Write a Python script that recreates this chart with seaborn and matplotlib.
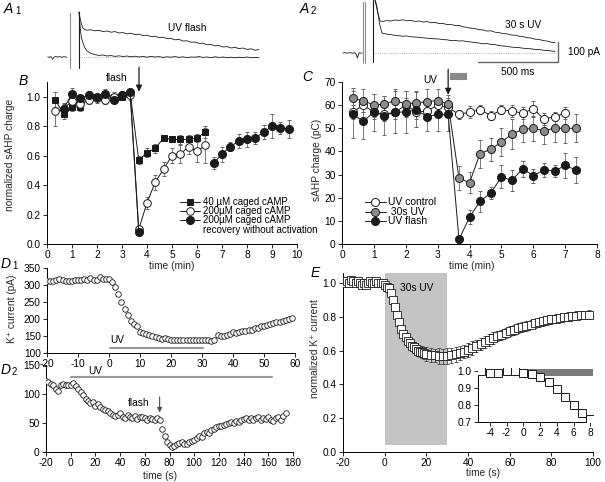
"""
Caged cAMP / sAHP figure: example traces (A), sAHP time courses (B, C),
K+ current time courses (D1, D2) and normalized K+ current (E).
"""
import matplotlib
matplotlib.use("Agg")
import matplotlib.pyplot as plt
from matplotlib.patches import Rectangle
import seaborn as sns

# --- Data ---------------------------------------------------------------
# A1 traces (ms, pA), zero = flash
A1_pre_t = [-195, -185, -175, -165, -155, -145, -135, -125, -115, -105, -95, -85, -75]
A1_pre = [1, -2, 2, -11, 0, 3, -1, 2, 1, -2, 2, 0, -1]
A1_t_up = [0, 8, 16, 25, 35, 50, 75, 100, 125, 150, 175, 200, 225, 250, 275, 300, 325, 350, 375,
           400, 425, 450, 475, 500, 525, 550, 575, 600, 625, 650, 675, 700, 725, 750, 775, 800,
           825, 850, 875, 900, 925, 950, 975, 1000, 1025, 1050, 1075, 1100, 1125]
A1_up = [225, 190, 162, 145, 138, 134, 136, 131, 133, 127, 130, 124, 127, 120, 122, 116, 119, 112, 114,
         107, 109, 102, 104, 97, 99, 92, 93, 86, 88, 80, 81, 74, 75, 68, 69, 61,
         63, 56, 57, 50, 52, 45, 48, 42, 45, 38, 41, 34, 37]
A1_t_lo = [0, 5, 10, 16, 25, 35, 50, 75, 100, 125, 150, 175, 200, 225, 250, 275, 300, 325, 350, 375,
           400, 425, 450, 475, 500, 525, 550, 575, 600, 625, 650, 675, 700, 725, 750, 775, 800,
           825, 850, 875, 900, 925, 950, 975, 1000, 1025, 1050, 1075, 1100, 1125]
A1_lo = [225, 170, 125, 95, 70, 48, 30, 18, 12, 8, 10, 5, 7, 3, 6, 2, 5, 1, 4, 0,
         3, -1, 3, 0, 2, -2, 1, -1, 2, -2, 1, -3, 0, -1, 2, -2, 0,
         -3, 1, -2, 0, -3, -1, -4, -1, -3, 0, -4, -2, -4]

# A2 traces (ms, pA)
A2_pre_t = [-200, -190, -180, -170, -160, -150, -140, -130, -120, -110, -100, -90, -80]
A2_pre = [0, 2, -1, 1, 0, 2, -1, 1, -3, -25, 1, -1, 0]
A2_t_up = [0, 15, 31, 50, 75, 100, 125, 150, 175, 200, 225, 250, 275, 300, 325, 350, 375, 400,
           425, 450, 475, 500, 525, 550, 575, 600, 625, 650, 675, 700, 725, 750, 775, 800, 825,
           850, 875, 900, 925, 950, 975, 1000, 1025, 1050, 1075, 1100, 1125]
A2_up = [265, 210, 160, 158, 162, 160, 165, 163, 166, 161, 163, 158, 160, 155, 157, 151, 153, 147,
         148, 142, 143, 137, 138, 131, 128, 124, 122, 117, 115, 110, 111, 104, 102, 97, 96,
         90, 89, 84, 82, 77, 75, 69, 68, 62, 60, 54, 52]
A2_t_lo = [0, 10, 20, 30, 44, 60, 75, 100, 125, 150, 175, 200, 225, 250, 275, 300, 325, 350, 375,
           400, 425, 450, 475, 500, 525, 550, 575, 600, 625, 650, 675, 700, 725, 750, 775, 800,
           825, 850, 875, 900, 925, 950, 975, 1000, 1025, 1050, 1075, 1100, 1125]
A2_lo = [265, 240, 190, 140, 100, 97, 94, 92, 88, 86, 84, 85, 81, 80, 78, 76, 74, 72, 71,
         70, 67, 66, 62, 63, 60, 61, 57, 55, 52, 50, 46, 47, 43, 42, 37, 35,
         33, 30, 28, 27, 24, 22, 21, 18, 17, 14, 13, 10, 8]

# B: normalized sAHP charge (time in min)
B_t = [0.33, 0.67, 1.0, 1.33, 1.67, 2.0, 2.33, 2.67, 3.0, 3.33, 3.67, 4.0, 4.33, 4.67, 5.0, 5.33,
       5.67, 6.0, 6.33]
B_40 = [0.98, 0.88, 0.93, 0.93, 0.99, 1.00, 1.02, 1.00, 1.00, 1.02, 0.57, 0.62, 0.65, 0.72, 0.71,
        0.71, 0.71, 0.72, 0.76]
B_40_err = [0.05, 0.03, 0.03, 0.03, 0.03, 0.02, 0.02, 0.02, 0.02, 0.02, 0.03, 0.03, 0.03, 0.02,
            0.02, 0.03, 0.03, 0.03, 0.04]
B_200 = [0.90, 0.92, 0.97, 0.95, 0.98, 0.99, 0.98, 1.00, 1.01, 1.01, 0.10, 0.28, 0.42, 0.51, 0.60,
         0.61, 0.66, 0.63, 0.67]
B_200_err = [0.10, 0.04, 0.04, 0.03, 0.03, 0.03, 0.03, 0.03, 0.03, 0.03, 0.02, 0.04, 0.05, 0.05,
             0.05, 0.06, 0.05, 0.07, 0.12]
B_rec_t1 = [0.67, 1.0, 1.33, 1.67, 2.0, 2.33, 2.67, 3.0, 3.33, 3.67]
B_rec1 = [0.92, 1.02, 0.99, 1.01, 1.00, 1.02, 0.98, 1.01, 1.03, 0.08]
B_rec1_err = [0.03, 0.04, 0.02, 0.03, 0.02, 0.03, 0.02, 0.02, 0.02, 0.02]
B_rec_t2 = [6.67, 7.0, 7.33, 7.67, 8.0, 8.33, 8.67, 9.0, 9.33, 9.67]
B_rec2 = [0.55, 0.61, 0.66, 0.70, 0.71, 0.72, 0.76, 0.80, 0.79, 0.78]
B_rec2_err = [0.04, 0.05, 0.03, 0.05, 0.05, 0.04, 0.05, 0.08, 0.04, 0.06]

# C: sAHP charge (pC)
C_t = [0.33, 0.67, 1.0, 1.33, 1.67, 2.0, 2.33, 2.67, 3.0, 3.33, 3.67, 4.0, 4.33, 4.67, 5.0, 5.33,
       5.67, 6.0, 6.33, 6.67, 7.0, 7.33]
C_ctrl = [57, 60, 57, 56, 57, 60, 57, 57.5, 60, 59, 56, 57, 58, 55.5, 58, 57.5, 56.5, 58.5, 54, 55, 56.5]
C_ctrl_err = [3, 3, 3, 3, 3, 3, 3, 3, 3, 3, 2, 2.5, 2, 2, 2, 2.5, 2.5, 3.5, 2.5, 2, 2.5]
C_30s = [63, 62, 60, 60.5, 62, 60.5, 61, 61.5, 62, 60.5, 28.5, 26.5, 39, 41, 44, 47.5, 49.5, 50, 49,
         50, 50, 50]
C_30s_err = [4.5, 5, 5, 3.5, 5, 5.5, 5, 5.5, 5, 4, 5, 4.5, 6, 5, 6, 6.5, 5.5, 5.5, 6, 6, 6.5, 6]
C_flash = [56, 53, 57, 55.5, 57, 57, 58, 55, 56, 56, 2, 11.5, 18.5, 22, 29, 27.5, 32.5, 29.5, 32,
           31.5, 34, 32]
C_flash_err = [10, 7.5, 8, 8.5, 9, 9, 7.5, 6, 7, 7, 1.5, 3, 4.5, 2.5, 5, 4.5, 3.5, 3, 3, 2.5, 5.5, 5.5]

# D1: K+ current (pA) vs time
D1_t = [-20, -19, -18, -17, -16, -15, -14, -13, -12, -11, -10, -9, -8, -7, -6, -5, -4, -3, -2, -1,
        0, 1, 2, 3, 4, 5, 6, 7, 8, 9, 10, 11, 12, 13, 14, 15, 16, 17, 18, 19,
        20, 21, 22, 23, 24, 25, 26, 27, 28, 29, 30, 31, 32, 33, 34, 35, 36, 37, 38, 39,
        40, 41, 42, 43, 44, 45, 46, 47, 48, 49, 50, 51, 52, 53, 54, 55, 56, 57, 58, 59]
D1_I = [312, 312, 313, 315, 317, 314, 313, 313, 313, 314, 316, 316, 318, 315, 320, 316, 314, 323, 318, 317,
        318, 310, 294, 274, 250, 230, 211, 193, 184, 178, 163, 160, 155, 152, 150, 147, 144, 141, 143, 140,
        138, 138, 138, 137, 137, 138, 138, 137, 137, 138, 137, 137, 138, 136, 139, 153, 151, 150, 152, 157,
        163, 160, 163, 165, 165, 167, 169, 173, 175, 178, 180, 182, 185, 188, 192, 190, 195, 197, 200, 203]

# D2: K+ current (pA) vs time (s)
D2_t = [-20, -18, -16, -14, -12, -10, -8, -6, -4, -2, 0, 2, 4, 6, 8, 10, 12, 14, 16, 18,
        20, 22, 24, 26, 28, 30, 32, 34, 36, 38, 40, 42, 44, 46, 48, 50, 52, 54, 56, 58,
        60, 62, 64, 66, 68, 70, 72, 74, 76, 78, 80, 82, 84, 86, 88, 90, 92, 94, 96, 98,
        100, 102, 104, 106, 108, 110, 112, 114, 116, 118, 120, 122, 124, 126, 128, 130, 132, 134, 136, 138,
        140, 142, 144, 146, 148, 150, 152, 154, 156, 158, 160, 162, 164, 166, 168, 170, 172, 174]
D2_I = [122, 120, 117, 115, 108, 106, 116, 117, 116, 115, 115, 119, 114, 109, 104, 98, 92, 88, 84, 86,
        80, 82, 77, 75, 72, 70, 68, 64, 62, 63, 68, 60, 58, 63, 60, 58, 62, 57, 60, 61,
        58, 56, 59, 57, 56, 58, 56, 40, 28, 18, 12, 9, 11, 13, 15, 18, 14, 13, 17, 19,
        21, 24, 27, 26, 32, 35, 33, 38, 40, 43, 45, 44, 47, 48, 50, 51, 50, 53, 52, 55,
        57, 58, 56, 58, 55, 58, 60, 56, 59, 57, 60, 56, 54, 58, 60, 56, 62, 68]

# E: normalized K+ current
E_t = [-20, -19, -18, -17, -16, -15, -14, -13, -12, -11, -10, -9, -8, -7, -6, -5, -4, -3, -2, -1,
       0, 1, 2, 3, 4, 5, 6, 7, 8, 9, 10, 11, 12, 13, 14, 15, 16, 17, 18, 19, 20,
       22, 24, 26, 28, 30, 32, 34, 36, 38, 40, 42, 44, 46, 48, 50, 52, 54, 56, 58, 60,
       62, 64, 66, 68, 70, 72, 74, 76, 78, 80, 82, 84, 86, 88, 90, 92, 94, 96, 98]
E_I = [1.01, 1.00, 1.01, 1.00, 1.02, 1.01, 1.00, 1.01, 1.00, 0.99, 1.00, 0.99, 1.00, 1.01, 1.00,
       1.00, 1.01, 1.00, 1.00, 1.00,
       0.99, 0.98, 0.97, 0.94, 0.90, 0.86, 0.81, 0.77, 0.73, 0.70, 0.68, 0.66, 0.645, 0.63, 0.62,
       0.61, 0.60, 0.595, 0.59, 0.585, 0.58,
       0.575, 0.572, 0.569, 0.567, 0.568, 0.572, 0.578, 0.586, 0.595, 0.605, 0.615, 0.626, 0.638,
       0.65, 0.662, 0.674, 0.685, 0.695, 0.705, 0.715, 0.724, 0.732, 0.74, 0.748, 0.755, 0.761,
       0.767, 0.773, 0.779, 0.785, 0.79, 0.794, 0.798, 0.802, 0.806, 0.808, 0.81, 0.812, 0.813]
E_err = [0.015, 0.02, 0.015, 0.02, 0.015, 0.02, 0.015, 0.02, 0.015, 0.02, 0.015, 0.02, 0.015, 0.02,
         0.015, 0.02, 0.015, 0.02, 0.015, 0.02,
         0.015, 0.01, 0.01, 0.01, 0.01, 0.01, 0.01, 0.015, 0.015, 0.02, 0.02, 0.02, 0.025, 0.025,
         0.03, 0.03, 0.03, 0.035, 0.035, 0.035, 0.04,
         0.04, 0.04, 0.045, 0.045, 0.045, 0.045, 0.045, 0.04, 0.04, 0.04, 0.04, 0.035, 0.035, 0.035,
         0.035, 0.035, 0.03, 0.03, 0.03, 0.03, 0.03, 0.03, 0.03, 0.03, 0.025, 0.025, 0.025, 0.025,
         0.025, 0.025, 0.025, 0.025, 0.025, 0.025, 0.025, 0.025, 0.025, 0.025, 0.025]
# E inset: first seconds of UV
Ei_t = [-5, -4, -3, -2, -1, 0, 1, 2, 3, 4, 5, 6, 7, 8]
Ei_I = [1.0, 0.99, 0.99, 1.0, 1.0, 0.99, 0.985, 0.967, 0.937, 0.895, 0.85, 0.80, 0.755, 0.72]
Ei_err = [0.01, 0.01, 0.01, 0.01, 0.01, 0.01, 0.01, 0.01, 0.01, 0.01, 0.015, 0.015, 0.02, 0.02]

# --- Styling --------------------------------------------------------------
sns.set_theme(style="ticks", context="paper")
plt.rcParams["font.family"] = ["Liberation Sans", "DejaVu Sans"]
plt.rcParams.update({
    "axes.unicode_minus": False,
    "axes.linewidth": 0.7,
    "axes.edgecolor": "black",
    "xtick.color": "black",
    "ytick.color": "black",
    "text.color": "black",
})
FS = 7.3
GREY = "#8c8c8c"

W, H = 605, 482
fig = plt.figure(figsize=(W / 100, H / 100), dpi=100)


def px_axes(l, t, r, b):
    ax = fig.add_axes([l / W, 1 - b / H, (r - l) / W, (b - t) / H])
    ax.set_facecolor("none")
    return ax


def style(ax):
    sns.despine(ax=ax)
    ax.tick_params(labelsize=FS, length=3, width=0.6, pad=1.5, direction="out")


def ebar(ax, x, y, e, marker, mfc, ms=5, ecolor="0.4"):
    ax.errorbar(x, y, yerr=e, color="k", lw=0.7, marker=marker, ms=ms, mfc=mfc, mec="k",
                mew=0.7, ecolor=ecolor, elinewidth=0.6, capsize=1.5, capthick=0.6, zorder=3)


def trace(ax, x, y):
    sns.lineplot(x=x, y=y, ax=ax, color="k", lw=0.6, estimator=None, sort=False)


# ══ A1 ══════════════════════════════════════════════════════════════
axA1 = px_axes(40, 5, 270, 70)
axA1.set_xlim(-243.75, 1193.75)
axA1.set_ylim(-65, 260)
axA1.axis("off")
axA1.plot([0, 1125], [0, 0], color="0.6", ls=":", lw=0.6)
trace(axA1, A1_pre_t, A1_pre)
axA1.plot([-56, -56], [-55, 220], color="0.55", lw=0.8)
axA1.plot([0, 0], [-55, 225], color="k", lw=0.8)
trace(axA1, A1_t_lo, A1_lo)
trace(axA1, A1_t_up, A1_up)
axA1.text(556, 145, "UV flash", fontsize=FS, va="center")

# ══ A2 ══════════════════════════════════════════════════════════════
axA2 = px_axes(335, 0, 605, 80)
axA2.set_xlim(-250, 1437.5)
axA2.set_ylim(-135, 265)
axA2.axis("off")
axA2.plot([0, 1125], [0, 0], color="0.6", ls=":", lw=0.6)
trace(axA2, A2_pre_t, A2_pre)
for tx in (-75, -62):
    axA2.plot([tx, tx], [-50, 256], color="0.55", lw=0.8)
axA2.plot([-10, -10], [-47, 265], color="k", lw=0.8)
trace(axA2, A2_t_lo, A2_lo)
trace(axA2, A2_t_up, A2_up)
axA2.text(812, 140, "30 s UV", fontsize=FS, va="center")
axA2.plot([644, 1144, 1144], [-45, -45, 55], color="0.4", lw=1.0)
axA2.text(1206, 5, "100 pA", fontsize=FS, va="center")
axA2.text(894, -95, "500 ms", fontsize=FS, va="center", ha="center")

# ══ B ═══════════════════════════════════════════════════════════════
axB = px_axes(47, 82, 297, 244)
ebar(axB, B_t, B_40, B_40_err, "s", "k", ms=4.8)
ebar(axB, B_t, B_200, B_200_err, "o", "w", ms=5.5)
ebar(axB, B_rec_t1, B_rec1, B_rec1_err, "o", "k", ms=5.8)
ebar(axB, B_rec_t2, B_rec2, B_rec2_err, "o", "k", ms=5.8)
axB.set_xlim(0, 10)
axB.set_ylim(0, 1.1)
axB.set_xticks(range(0, 11))
axB.set_yticks([0.0, 0.2, 0.4, 0.6, 0.8, 1.0])
axB.set_yticklabels(["0.0", "0.2", "0.4", "0.6", "0.8", "1.0"])
axB.set_xlabel("time (min)", fontsize=FS)
axB.set_ylabel("normalized sAHP charge", fontsize=FS)
axB.xaxis.set_label_coords(0.5, -0.105)
axB.yaxis.set_label_coords(-0.128, 0.55)
style(axB)
axB.annotate("", xy=(3.68, 1.035), xytext=(3.68, 1.2), annotation_clip=False,
             arrowprops=dict(arrowstyle="-|>", color="k", lw=0.9, mutation_scale=9,
                             shrinkA=0, shrinkB=0))
axB.text(2.8, 1.13, "flash", fontsize=FS, ha="center", va="center", clip_on=False)

# ══ C ═══════════════════════════════════════════════════════════════
axC = px_axes(342, 82, 597, 244)
ebar(axC, C_t[:len(C_ctrl)], C_ctrl, C_ctrl_err, "o", "w", ms=5.8)
ebar(axC, C_t, C_30s, C_30s_err, "o", GREY, ms=5.8)
ebar(axC, C_t, C_flash, C_flash_err, "o", "k", ms=5.8)
axC.set_xlim(0, 8)
axC.set_ylim(0, 70)
axC.set_xticks(range(0, 9))
axC.set_yticks(range(0, 71, 10))
axC.set_xlabel("time (min)", fontsize=FS)
axC.set_ylabel("sAHP charge (pC)", fontsize=FS)
axC.xaxis.set_label_coords(0.51, -0.105)
axC.yaxis.set_label_coords(-0.078, 0.52)
style(axC)
axC.annotate("", xy=(3.33, 64.5), xytext=(3.33, 75.5), annotation_clip=False,
             arrowprops=dict(arrowstyle="-|>", color="k", lw=0.9, mutation_scale=9,
                             shrinkA=0, shrinkB=0))
axC.text(2.76, 71, "UV", fontsize=FS, ha="center", va="center", clip_on=False)
axC.add_patch(Rectangle((3.38, 71.3), 0.5, 2.6, color="#888888", clip_on=False))

# ══ D1 ══════════════════════════════════════════════════════════════
axD1 = px_axes(47, 268, 295, 353)
sns.scatterplot(x=D1_t, y=D1_I, ax=axD1, marker="o", s=16, color="white",
                edgecolor="k", linewidth=0.6, zorder=3)
axD1.plot([0.3, 30.4], [115, 115], color="0.6", lw=1.5)
axD1.text(0.3, 138, "UV", fontsize=FS, va="center")
axD1.set_xlim(-20, 60)
axD1.set_ylim(100, 350)
axD1.set_xticks(range(-20, 61, 10))
axD1.set_yticks(range(100, 351, 50))
axD1.set_ylabel("K\u207a current (pA)", fontsize=FS)
axD1.yaxis.set_label_coords(-0.121, 0.52)
style(axD1)

# ══ D2 ══════════════════════════════════════════════════════════════
axD2 = px_axes(46, 365, 293, 452)
sns.scatterplot(x=D2_t, y=D2_I, ax=axD2, marker="o", s=16, color="white",
                edgecolor="k", linewidth=0.6, zorder=3)
axD2.plot([0, 163], [129, 129], color="0.6", lw=1.5, clip_on=False)
axD2.text(20, 131.5, "UV", fontsize=FS, va="bottom", ha="center", clip_on=False)
axD2.annotate("", xy=(72, 68), xytext=(72, 95),
              arrowprops=dict(arrowstyle="-|>", color="0.3", lw=0.8, mutation_scale=7,
                              shrinkA=0, shrinkB=0))
axD2.text(64, 84, "flash", fontsize=FS, ha="right", va="center")
axD2.set_xlim(-20, 180)
axD2.set_ylim(0, 150)
axD2.set_xticks(range(-20, 181, 20))
axD2.set_yticks([0, 50, 100, 150])
axD2.set_xlabel("time (s)", fontsize=FS)
axD2.xaxis.set_label_coords(0.46, -0.22)
style(axD2)

# ══ E ═══════════════════════════════════════════════════════════════
axE = px_axes(343, 273, 593, 452)
axE.add_patch(Rectangle((0, 0.04), 30, 1.02, color="#c4c4c4", lw=0, zorder=0))
axE.errorbar(E_t, E_I, yerr=E_err, ls="none", marker="s", ms=5.5, mfc="w", mec="k", mew=0.6,
             ecolor="0.25", elinewidth=0.6, capsize=1.5, capthick=0.6, zorder=3)
axE.text(7.3, 0.97, "30s UV", fontsize=FS, va="center")
axE.set_xlim(-20, 100)
axE.set_ylim(0, 1.06)
axE.set_xticks(range(-20, 101, 20))
axE.set_yticks([0.0, 0.2, 0.4, 0.6, 0.8, 1.0])
axE.set_yticklabels(["0.0", "0.2", "0.4", "0.6", "0.8", "1.0"])
axE.set_xlabel("time (s)", fontsize=FS)
axE.set_ylabel("normalized K\u207a current", fontsize=FS)
axE.xaxis.set_label_coords(0.56, -0.09)
axE.yaxis.set_label_coords(-0.092, 0.58)
style(axE)

# inset
axI = px_axes(478, 368, 593, 422)
axI.add_patch(Rectangle((-0.2, 0.97), 9, 0.045, color="#7a7a7a", lw=0, zorder=1))
axI.errorbar(Ei_t, Ei_I, yerr=Ei_err, ls="none", marker="s", ms=5.5, mfc="w", mec="k", mew=0.7,
             ecolor="0.25", elinewidth=0.6, capsize=1.2, capthick=0.6, zorder=3)
axI.set_xlim(-5.4, 8.3)
axI.set_ylim(0.7, 1.018)
axI.set_xticks([-4, -2, 0, 2, 4, 6, 8])
axI.set_yticks([0.7, 0.8, 0.9, 1.0])
axI.set_yticklabels(["0.7", "0.8", "0.9", "1.0"])
style(axI)

# ══ overlay: panel letters and legends (figure pixels) ══════════════
ov = fig.add_axes([0, 0, 1, 1])
ov.set_xlim(0, W)
ov.set_ylim(H, 0)
ov.axis("off")


def plabel(x, y, letter, sub=None):
    ov.text(x, y, letter, style="italic", fontsize=10, va="center", ha="left")
    if sub:
        ov.text(x + 11, y + 2, sub, fontsize=7, va="center", ha="left")


plabel(4, 9, "A", "1")
plabel(300, 9, "A", "2")
plabel(19, 81, "B")
plabel(302, 77, "C")
plabel(1, 264, "D", "1")
plabel(1, 370, "D", "2")
plabel(311, 273, "E")

B_legend = [(202, "s", "k", 4.8, "40 \u00b5M caged cAMP"),
            (211, "o", "w", 5.5, "200\u00b5M caged cAMP"),
            (220, "o", "k", 5.8, "200\u00b5M caged cAMP")]
for py, mk, fc, ms, lab in B_legend:
    ov.plot([180, 200], [py, py], color="k", lw=0.7)
    ov.plot([190], [py], marker=mk, ms=ms, mfc=fc, mec="k", mew=0.7)
    ov.text(203, py, lab, fontsize=7, va="center")
ov.text(203, 230, "recovery without activation", fontsize=7, va="center")

C_legend = [(202, "w", "UV control"), (212, GREY, " 30s UV"), (221, "k", "UV flash")]
for py, fc, lab in C_legend:
    ov.plot([365, 386], [py, py], color="k", lw=0.7)
    ov.plot([375], [py], marker="o", ms=5.8, mfc=fc, mec="k", mew=0.7)
    ov.text(388, py, lab, fontsize=7.5, va="center")

fig.savefig("out.png", dpi=100)
print("[+] Saved out.png")
